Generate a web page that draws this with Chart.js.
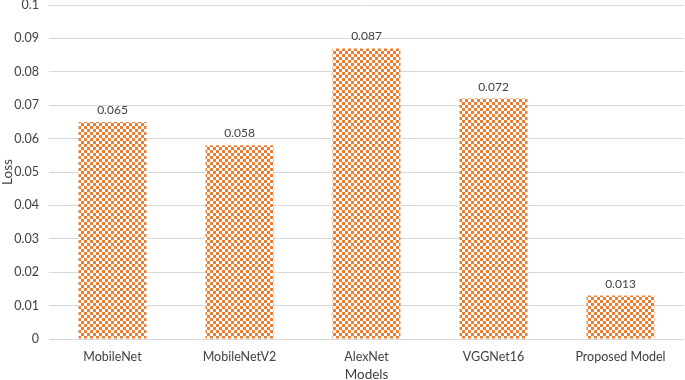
<!DOCTYPE html>
<html>
<head>
<meta charset="utf-8">
<script src="https://cdn.jsdelivr.net/npm/chart.js@4.4.1/dist/chart.umd.min.js"></script>
<style>
  html, body { margin: 0; padding: 0; background: #fff; }
  #wrap { width: 685px; height: 380px; }
</style>
</head>
<body>
<div id="wrap"><canvas id="chart"></canvas></div>
<script>
const models = ['MobileNet', 'MobileNetV2', 'AlexNet', 'VGGNet16', 'Proposed Model'];
const loss = [0.065, 0.058, 0.087, 0.072, 0.013];

// checkerboard fill like the excel pattern
function checker() {
    const c = document.createElement('canvas');
    c.width = 6; c.height = 6;
    const g = c.getContext('2d');
    g.fillStyle = '#ffffff';
    g.fillRect(0, 0, 6, 6);
    g.fillStyle = '#ED7D31';
    g.fillRect(0, 0, 3, 3);
    g.fillRect(3, 3, 3, 3);
    return g.createPattern(c, 'repeat');
}

const valueLabels = {
    id: 'valueLabels',
    afterDatasetsDraw(chart) {
        const ctx = chart.ctx;
        const meta = chart.getDatasetMeta(0);
        ctx.save();
        ctx.font = '12px Lato, sans-serif';
        ctx.fillStyle = '#404040';
        ctx.textAlign = 'center';
        ctx.textBaseline = 'alphabetic';
        meta.data.forEach((bar, i) => {
            ctx.fillText(loss[i].toFixed(3), bar.x, bar.y - 8);
        });
        ctx.restore();
    }
};

const ctx = document.getElementById('chart');

new Chart(ctx, {
    type: 'bar',
    data: {
        labels: models,
        datasets: [{
            label: 'Loss',
            data: loss,
            backgroundColor: checker(),
            borderWidth: 0,
            categoryPercentage: 1,
            barPercentage: 0.535
        }]
    },
    options: {
        responsive: true,
        maintainAspectRatio: false,
        animation: false,
        layout: { padding: { top: 5, right: 1, left: 0, bottom: 0 } },
        plugins: {
            legend: { display: false },
            tooltip: { enabled: false }
        },
        scales: {
            x: {
                grid: { display: false },
                border: { display: false },
                ticks: {
                    color: '#404040',
                    font: { family: 'Lato', size: 12.5 },
                    padding: 2
                },
                title: {
                    display: true,
                    text: 'Models',
                    color: '#404040',
                    font: { family: 'Lato', size: 13.5 },
                    padding: { top: 0, bottom: -3 }
                },
                afterFit(scale) { scale.height = 41; }
            },
            y: {
                min: 0,
                max: 0.1,
                ticks: {
                    stepSize: 0.01,
                    color: '#404040',
                    font: { family: 'Lato', size: 12.5 },
                    padding: 10,
                    callback: v => String(Math.round(v * 100) / 100)
                },
                grid: { color: '#d9d9d9', lineWidth: 1, drawTicks: false },
                border: { display: false },
                title: {
                    display: true,
                    text: 'Loss',
                    color: '#404040',
                    font: { family: 'Lato', size: 13.5 },
                    padding: { top: 0, bottom: 0 }
                },
                afterFit(scale) {
                    scale.width = 49;
                    scale.paddingTop = 0;
                    scale.paddingBottom = 0;
                }
            }
        }
    },
    plugins: [valueLabels]
});
</script>
</body>
</html>
